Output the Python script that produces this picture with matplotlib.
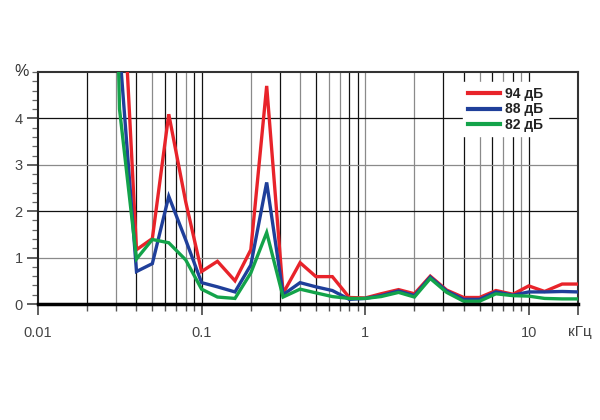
import numpy as np
import matplotlib
matplotlib.use("Agg")
import matplotlib.pyplot as plt
from matplotlib.ticker import FixedLocator, NullFormatter

plt.rcParams["font.family"] = ["Liberation Sans", "DejaVu Sans"]

# Data (1/3-octave frequencies, kHz)
freq = [0.025, 0.0315, 0.04, 0.05, 0.063, 0.08, 0.1, 0.125, 0.16, 0.2, 0.25,
        0.315, 0.4, 0.5, 0.63, 0.8, 1.0, 1.25, 1.6, 2.0, 2.5, 3.15, 4.0, 5.0,
        6.3, 8.0, 10.0, 12.5, 16.0, 20.0]
thd_94 = [30, 8.3, 1.17, 1.41, 4.09, 2.2, 0.70, 0.92, 0.50, 1.17, 4.70,
          0.23, 0.89, 0.59, 0.59, 0.14, 0.13, 0.22, 0.31, 0.22, 0.60, 0.30,
          0.14, 0.14, 0.29, 0.21, 0.39, 0.27, 0.43, 0.43]
thd_88 = [25, 5.5, 0.70, 0.87, 2.32, 1.38, 0.46, 0.37, 0.26, 0.84, 2.62,
          0.20, 0.46, 0.37, 0.29, 0.10, 0.12, 0.18, 0.28, 0.18, 0.58, 0.28,
          0.10, 0.10, 0.26, 0.19, 0.26, 0.26, 0.27, 0.26]
thd_82 = [20, 4.2, 0.97, 1.39, 1.32, 0.95, 0.32, 0.15, 0.12, 0.67, 1.54,
          0.15, 0.32, 0.24, 0.16, 0.12, 0.12, 0.16, 0.25, 0.15, 0.55, 0.25,
          0.06, 0.06, 0.22, 0.18, 0.17, 0.12, 0.11, 0.11]
labels = ["94 дБ", "88 дБ", "82 дБ"]
xtick_vals = [0.01, 0.1, 1, 10]
xtick_labels = ["0.01", "0.1", "1", "10"]
ytick_vals = [0, 1, 2, 3, 4]

colors = ["#e8232a", "#1f3f9a", "#13a34a"]

fig = plt.figure(figsize=(6, 4.2), dpi=100)
ax = fig.add_axes([38/600, 1-304/420, 540/600, 232/420])
ax.set_xscale("log")
ax.set_xlim(0.01, 20)
ax.set_ylim(0, 5)

# grid lines
gray, black = "#8a8a8a", "#111111"
grid_pattern = {
    0.02: black, 0.03: gray, 0.04: black, 0.05: gray, 0.06: black, 0.07: black,
    0.08: gray, 0.09: black, 0.1: black, 0.2: gray, 0.3: black, 0.4: gray,
    0.5: black, 0.6: gray, 0.7: gray, 0.8: black, 0.9: black, 1: gray,
    2: gray, 3: black, 4: black, 5: gray, 6: black, 7: gray, 8: black,
    9: gray, 10: black,
}
for xv, c in grid_pattern.items():
    ax.axvline(xv, color=c, lw=0.9, zorder=1)
for yv, c in zip([1, 2, 3, 4], [gray, black, gray, black]):
    ax.axhline(yv, color=c, lw=0.9, zorder=1)

for vals, col, lab in zip([thd_94, thd_88, thd_82], colors, labels):
    ax.plot(freq, vals, color=col, lw=2.4, label=lab, zorder=3,
            solid_joinstyle="miter")

# spines
for s in ["top", "right"]:
    ax.spines[s].set_color("#333333")
    ax.spines[s].set_linewidth(1.5)
ax.spines["left"].set_color("#222222")
ax.spines["left"].set_linewidth(1.5)
ax.spines["bottom"].set_color("#000000")
ax.spines["bottom"].set_linewidth(2.5)
ax.spines["bottom"].set_zorder(5)

# ticks
ax.xaxis.set_major_locator(FixedLocator(xtick_vals + [20]))
ax.set_xticklabels(xtick_labels + [""])
minor = [m * 10.0**e for e in (-2, -1, 0, 1) for m in range(2, 10) if m * 10.0**e < 19]
ax.xaxis.set_minor_locator(FixedLocator(minor))
ax.xaxis.set_minor_formatter(NullFormatter())
ax.yaxis.set_major_locator(FixedLocator(ytick_vals))
ax.yaxis.set_minor_locator(FixedLocator(np.arange(0.2, 5.01, 0.2)))
ax.tick_params(axis="x", which="major", length=8, width=1.2, color="#444444",
               labelsize=10.5, labelcolor="#444444", pad=8)
ax.tick_params(axis="x", which="minor", length=5, width=1, color="#555555")
ax.tick_params(axis="y", which="major", length=8, width=1.2, color="#444444",
               labelsize=10.5, labelcolor="#444444", pad=3)
ax.tick_params(axis="y", which="minor", length=4, width=0.9, color="#666666")

fig.text(22/600, 1-72/420, "%", fontsize=11.5, color="#333333",
         ha="center", va="center")
fig.text(580/600, 1-332/420, "кГц", fontsize=11, color="#444444",
         ha="center", va="center")

leg = ax.legend(loc="upper left", bbox_to_anchor=((456-38)/540, 0.985),
                frameon=True, fancybox=False, framealpha=1, facecolor="white",
                edgecolor="white", handlelength=2.3, handletextpad=0.35,
                labelspacing=0.08, borderpad=0.35,
                prop={"weight": "bold", "size": 10})
leg.set_zorder(4)
for t in leg.get_texts():
    t.set_color("#222222")
for h in leg.get_lines():
    h.set_linewidth(3)

fig.savefig("out.png", dpi=100, facecolor="white")
